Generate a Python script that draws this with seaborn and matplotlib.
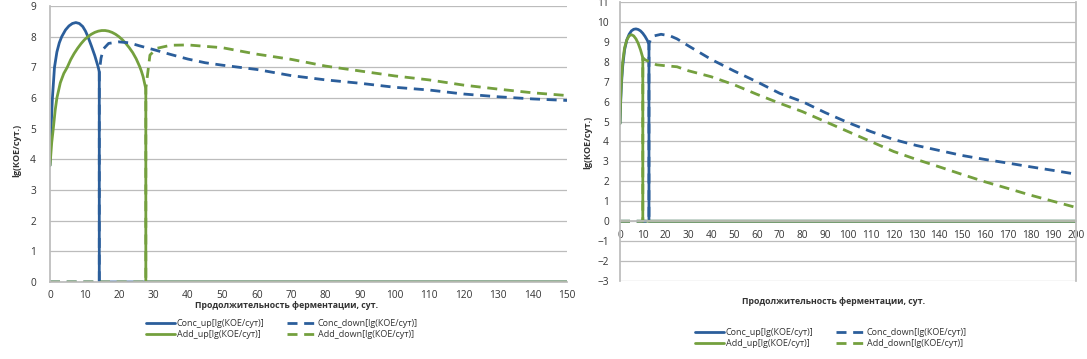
import numpy as np
import pandas as pd
import matplotlib
matplotlib.use("Agg")
import matplotlib.pyplot as plt
import seaborn as sns
from matplotlib.ticker import MultipleLocator

# left panel (150 days)
l_conc_up_x = [0, 0.3, 0.7, 1.3, 2, 2.7, 3.4, 4.5, 5.5, 6.5, 7.5, 8.5, 9.5, 10.3, 11, 12, 13, 14,
               14.3, 14.3, 150]
l_conc_up_y = [3.8, 5.0, 6.0, 7.0, 7.5, 7.8, 8.0, 8.22, 8.35, 8.43, 8.46, 8.43, 8.33, 8.18, 8.0,
               7.7, 7.38, 7.0, 6.85, 0, 0]
l_add_up_x = [0, 0.5, 1, 1.5, 2, 3, 4, 5, 6, 7, 8, 9, 10, 11, 12, 13, 14, 15, 16, 17, 18, 19, 20,
              21, 22, 23, 24, 25, 26, 26.5, 27, 27.5, 27.8, 27.8, 150]
l_add_up_y = [3.8, 4.55, 5.05, 5.6, 6.0, 6.5, 6.8, 7.0, 7.25, 7.45, 7.62, 7.77, 7.9, 8.0, 8.08,
              8.14, 8.18, 8.2, 8.2, 8.18, 8.14, 8.08, 8.0, 7.9, 7.78, 7.64, 7.48, 7.28, 7.03,
              6.88, 6.7, 6.45, 6.3, 0, 0]
l_conc_down_x = [0, 14.3, 14.3, 14.8, 15.5, 17, 20, 23, 26, 30, 35, 40, 45, 50, 60, 70, 80, 90, 100,
                 110, 120, 130, 140, 150]
l_conc_down_y = [0, 0, 6.85, 7.3, 7.6, 7.78, 7.83, 7.8, 7.7, 7.58, 7.42, 7.27, 7.15, 7.07, 6.93,
                 6.73, 6.59, 6.48, 6.35, 6.26, 6.13, 6.04, 5.97, 5.92]
l_add_down_x = [0, 27.8, 27.8, 29, 31, 35, 40, 50, 60, 70, 80, 90, 100, 110, 120, 130, 140, 150]
l_add_down_y = [0, 0, 6.3, 7.4, 7.62, 7.72, 7.73, 7.64, 7.43, 7.26, 7.04, 6.88, 6.72, 6.59, 6.42,
                6.29, 6.17, 6.08]

# right panel (200 days)
r_conc_up_x = [0, 0.3, 0.7, 1.2, 2, 3, 4, 5, 6, 7, 8, 9, 10, 11, 12, 12.7, 12.7, 200]
r_conc_up_y = [4.9, 6.0, 7.0, 7.8, 8.6, 9.1, 9.38, 9.55, 9.63, 9.65, 9.62, 9.55, 9.43, 9.27,
               9.07, 8.88, 0, 0]
r_add_up_x = [0, 0.3, 0.7, 1.2, 2, 3, 4, 5, 6, 7, 8, 9, 10, 10, 200]
r_add_up_y = [4.9, 6.2, 7.2, 8.0, 8.7, 9.1, 9.3, 9.36, 9.3, 9.15, 8.92, 8.6, 8.2, 0, 0]
r_conc_down_x = [0, 12.7, 12.7, 13.5, 15, 18, 22, 25, 30, 40, 50, 60, 70, 80, 90, 100, 110, 120,
                 130, 140, 150, 160, 170, 180, 190, 200]
r_conc_down_y = [0, 0, 8.9, 9.15, 9.3, 9.38, 9.3, 9.15, 8.8, 8.12, 7.54, 7.0, 6.42, 6.0, 5.45,
                 4.95, 4.5, 4.1, 3.8, 3.55, 3.3, 3.1, 2.92, 2.73, 2.55, 2.36]
r_add_down_x = [0, 10, 10, 11, 13, 16, 20, 25, 30, 40, 50, 60, 70, 80, 90, 100, 110, 120, 130,
                140, 150, 160, 170, 180, 190, 200]
r_add_down_y = [0, 0, 8.2, 8.1, 8.0, 7.85, 7.8, 7.75, 7.55, 7.25, 6.85, 6.37, 5.92, 5.5, 5.0, 4.5,
                4.0, 3.5, 3.1, 2.73, 2.35, 1.98, 1.65, 1.31, 1.0, 0.69]

labels = ["Conc_up[lg(КОЕ/сут)]", "Add_up[lg(КОЕ/сут)]",
          "Conc_down[lg(КОЕ/сут)]", "Add_down[lg(КОЕ/сут)]"]
xlabel = "Продолжительность ферментации, сут."
ylabel = "lg(КОЕ/сут.)"

sns.set_theme(style="white")
plt.rcParams["font.family"] = ["Open Sans", "DejaVu Sans"]
plt.rcParams["font.size"] = 6.5

blue = "#2b5e9b"
green = "#74a03e"
grid_c = "#bcbcbc"
txt_c = "#333333"

W, H = 1087, 359
fig = plt.figure(figsize=(W / 100, H / 100), dpi=100)


def px_axes(x0, y0, x1, y1):
    return fig.add_axes([x0 / W, 1 - y1 / H, (x1 - x0) / W, (y1 - y0) / H])


def draw(ax, series):
    for (xs, ys), col, ls, lab in series:
        sns.lineplot(x=xs, y=ys, ax=ax, color=col, linewidth=2.0, sort=False, estimator=None,
                     label=lab, legend=False)
        if ls == "--":
            ax.lines[-1].set_dashes([3.6, 2.4])


ax1 = px_axes(50, 6, 567, 282)
draw(ax1, [
    ((l_conc_up_x, l_conc_up_y), blue, "-", labels[0]),
    ((l_add_up_x, l_add_up_y), green, "-", labels[1]),
    ((l_conc_down_x, l_conc_down_y), blue, "--", labels[2]),
    ((l_add_down_x, l_add_down_y), green, "--", labels[3]),
])
ax1.set_xlim(0, 150)
ax1.set_ylim(0, 9)
ax1.xaxis.set_major_locator(MultipleLocator(10))
ax1.yaxis.set_major_locator(MultipleLocator(1))
ax1.yaxis.set_minor_locator(MultipleLocator(0.2))
ax1.xaxis.set_minor_locator(MultipleLocator(2))
ax1.grid(axis="y", color=grid_c, linewidth=0.9)
ax1.set_axisbelow(True)
for s in ["top", "right"]:
    ax1.spines[s].set_visible(False)
ax1.spines["left"].set_color(grid_c)
ax1.spines["bottom"].set_color(grid_c)
ax1.tick_params(axis="both", which="both", colors=grid_c, labelcolor=txt_c, labelsize=7.3)
ax1.tick_params(axis="both", which="major", length=3, width=0.6)
ax1.tick_params(axis="both", which="minor", length=2, width=0.5)
ax1.tick_params(axis="y", pad=7)
ax1.tick_params(axis="x", pad=3)
ax1.set_xlabel("")
ax1.set_ylabel("")

ax2 = px_axes(620, 2, 1076, 281)
draw(ax2, [
    ((r_conc_up_x, r_conc_up_y), blue, "-", labels[0]),
    ((r_add_up_x, r_add_up_y), green, "-", labels[1]),
    ((r_conc_down_x, r_conc_down_y), blue, "--", labels[2]),
    ((r_add_down_x, r_add_down_y), green, "--", labels[3]),
])
ax2.set_xlim(0, 200)
ax2.set_ylim(-3, 11)
ax2.xaxis.set_major_locator(MultipleLocator(10))
ax2.yaxis.set_major_locator(MultipleLocator(1))
ax2.grid(axis="y", color=grid_c, linewidth=0.9)
ax2.set_axisbelow(True)
ax2.spines["top"].set_visible(False)
ax2.spines["bottom"].set_position(("data", 0))
for s in ["left", "right", "bottom"]:
    ax2.spines[s].set_color(grid_c)
ax2.tick_params(axis="both", colors=grid_c, labelcolor=txt_c, labelsize=7.3, length=3, width=0.6)
ax2.tick_params(axis="y", pad=5)
ax2.tick_params(axis="x", pad=3)
ax2.set_xlabel("")
ax2.set_ylabel("")

# axis titles
fig.text(287 / W, 1 - 305 / H, xlabel, ha="center", va="center", fontsize=6.3,
         fontweight="bold", color=txt_c)
fig.text(834 / W, 1 - 301 / H, xlabel, ha="center", va="center", fontsize=6.3,
         fontweight="bold", color=txt_c)
fig.text(17 / W, 1 - 150 / H, ylabel, ha="center", va="center", rotation=90, fontsize=6.5,
         fontweight="bold", color=txt_c)
fig.text(588 / W, 1 - 142 / H, ylabel, ha="center", va="center", rotation=90, fontsize=6.5,
         fontweight="bold", color=txt_c)

# legends
for ax, cx, cy in [(ax1, 282, 329), (ax2, 831, 338)]:
    h, l = ax.get_legend_handles_labels()
    fig.legend(h, l, loc="center", bbox_to_anchor=(cx / W, 1 - cy / H), ncol=2, frameon=False,
               fontsize=6.5, handlelength=3.2, handletextpad=0.2, columnspacing=2.5,
               labelspacing=0.15, borderaxespad=0, labelcolor=txt_c)

fig.savefig("out.png", dpi=100)
